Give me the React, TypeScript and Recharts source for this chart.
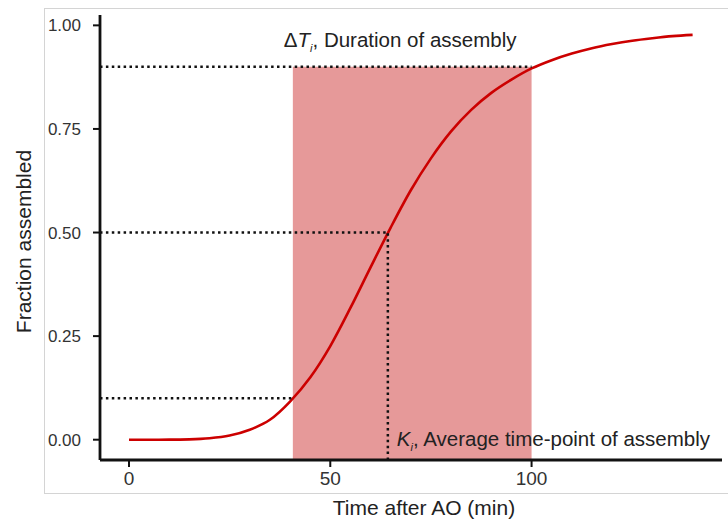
import React from 'react';
import {
    ComposedChart,
    Line,
    XAxis,
    YAxis,
    ReferenceArea,
    ReferenceLine,
} from 'recharts';

// time after AO (min) and fraction assembled
const times = [0, 5, 10, 15, 20, 25, 30, 35, 40, 45, 50, 55, 60, 65, 70, 75, 80, 85, 90, 95, 100, 105, 110, 115, 120, 125, 130, 135, 140];
const fractions = [
    0, 0.0, 0.0001, 0.0008, 0.0034, 0.01, 0.024, 0.048, 0.092, 0.15, 0.226, 0.318, 0.416, 0.512, 0.602, 0.679, 0.744,
    0.796, 0.837, 0.869, 0.896, 0.916, 0.932, 0.945, 0.955, 0.963, 0.969, 0.974, 0.977,
];

const xTicks = [0, 50, 100];
const yTicks = [0, 0.25, 0.5, 0.75, 1];

// assembly window: 10%, 50% and 90% time points
const assemblyTimes = [40.7, 64.3, 100];
const assemblyLevels = [0.1, 0.5, 0.9];

const xDomain = [-7.2, 147.3];
const yDomain = [-0.049, 1.025];

const data = times.map((t, i) => ({ t, fraction: fractions[i] }));

const FONT = 'Arial, "Liberation Sans", sans-serif';
const dotted = { stroke: '#111', strokeWidth: 2.5, strokeDasharray: '2.5 3.4' };

const XTitle = (props: any) => {
    const vb = props.viewBox;
    return (
        <text x={vb.x + vb.width / 2 + 13} y={vb.y + 55} textAnchor="middle" fontSize={21} fill="#222" fontFamily={FONT}>
            Time after AO (min)
        </text>
    );
};

const YTitle = (props: any) => {
    const vb = props.viewBox;
    const cx = vb.x - 17;
    const cy = vb.y + vb.height / 2 + 4;
    return (
        <text x={cx} y={cy} transform={`rotate(-90 ${cx} ${cy})`} textAnchor="middle" dominantBaseline="central" fontSize={21} fill="#222" fontFamily={FONT}>
            Fraction assembled
        </text>
    );
};

const DurationLabel = (props: any) => {
    const vb = props.viewBox;
    return (
        <text x={vb.x - 9} y={vb.y - 20} fontSize={20.5} fill="#222" fontFamily={FONT}>
            <tspan>Δ</tspan>
            <tspan fontStyle="italic">T</tspan>
            <tspan fontStyle="italic" fontSize={11} dy={5}>i</tspan>
            <tspan dy={-5}>, Duration of assembly</tspan>
        </text>
    );
};

const MidpointLabel = (props: any) => {
    const vb = props.viewBox;
    return (
        <text x={vb.x + 9} y={vb.y + vb.height - 14} fontSize={20.5} fill="#222" fontFamily={FONT}>
            <tspan fontStyle="italic">K</tspan>
            <tspan fontStyle="italic" fontSize={11} dy={5}>i</tspan>
            <tspan dy={-5}>, Average time-point of assembly</tspan>
        </text>
    );
};

export default function App() {
    return (
        <div style={{ position: 'absolute', left: 0, top: 0, width: 728, height: 525, background: '#fff' }}>
            <div
                style={{
                    position: 'absolute',
                    left: 44,
                    top: 8,
                    width: 700,
                    height: 484,
                    border: '1px solid #d4d4d4',
                    pointerEvents: 'none',
                }}
            />
            <ComposedChart
                width={728}
                height={525}
                data={data}
                margin={{ top: 15, right: 6, bottom: 5, left: 40 }}
                style={{ position: 'absolute', left: 0, top: 0 }}
            >
                <XAxis
                    dataKey="t"
                    type="number"
                    domain={xDomain}
                    ticks={xTicks}
                    allowDataOverflow
                    height={60}
                    axisLine={{ stroke: '#111', strokeWidth: 2.8 }}
                    tickLine={{ stroke: '#111', strokeWidth: 2 }}
                    tickSize={7}
                    tickMargin={5}
                    tick={{ fontSize: 19, fill: '#333', fontFamily: FONT }}
                    label={<XTitle />}
                />
                <YAxis
                    type="number"
                    domain={yDomain}
                    ticks={yTicks}
                    allowDataOverflow
                    width={60}
                    axisLine={{ stroke: '#111', strokeWidth: 2.8 }}
                    tickLine={{ stroke: '#111', strokeWidth: 2 }}
                    tickSize={7}
                    tickMargin={12}
                    tickFormatter={(v: number) => v.toFixed(2)}
                    tick={{ fontSize: 17, fill: '#333', fontFamily: FONT }}
                    label={<YTitle />}
                />
                <ReferenceArea
                    x1={assemblyTimes[0]}
                    x2={assemblyTimes[2]}
                    y1={yDomain[0]}
                    y2={assemblyLevels[2]}
                    fill="#E69999"
                    fillOpacity={1}
                    stroke="none"
                    label={<DurationLabel />}
                />
                <Line
                    dataKey="fraction"
                    type="monotone"
                    stroke="#CC0000"
                    strokeWidth={2.6}
                    dot={false}
                    activeDot={false}
                    isAnimationActive={false}
                />
                {assemblyLevels.map((level, i) => (
                    <ReferenceLine
                        key={level}
                        segment={[
                            { x: xDomain[0], y: level },
                            { x: assemblyTimes[i], y: level },
                        ]}
                        {...dotted}
                    />
                ))}
                <ReferenceLine
                    segment={[
                        { x: assemblyTimes[1], y: yDomain[0] },
                        { x: assemblyTimes[1], y: assemblyLevels[1] },
                    ]}
                    {...dotted}
                    label={<MidpointLabel />}
                />
            </ComposedChart>
        </div>
    );
}
